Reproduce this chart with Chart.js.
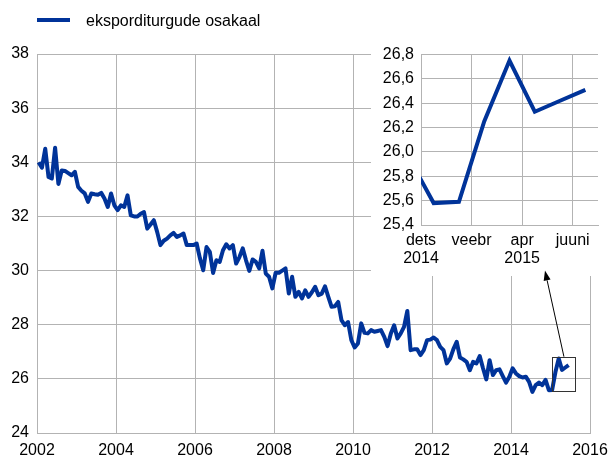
<!DOCTYPE html>
<html>
<head>
<meta charset="utf-8">
<script src="https://cdn.jsdelivr.net/npm/chart.js@4.4.1/dist/chart.umd.min.js"></script>
<style>
  body { margin: 0; background: #fff; }
  #wrap { position: relative; width: 608px; height: 459px; }
  #main { position: absolute; left: 0; top: 0; }
  #inset { position: absolute; left: 371px; top: 40px; }
</style>
</head>
<body>
<div id="wrap">
  <canvas id="main" width="608" height="459"></canvas>
  <canvas id="inset" width="237" height="236"></canvas>
</div>
<script>
const seriesName = "eksporditurgude osakaal";
const firstYear = 2002;

// monthly values, Jan 2002 .. Jun 2015 (one row per year)
const share = [
  34.0, 33.8, 34.5, 33.46, 33.4, 34.54, 33.2, 33.7, 33.68, 33.6, 33.52, 33.65,
  33.09, 32.95, 32.85, 32.54, 32.85, 32.82, 32.8, 32.87, 32.66, 32.35, 32.85, 32.41,
  32.23, 32.41, 32.35, 32.78, 32.04, 32.0, 32.0, 32.1, 32.16, 31.55, 31.7, 31.86,
  31.43, 30.94, 31.1, 31.18, 31.3, 31.39, 31.24, 31.3, 31.37, 30.94, 30.94, 30.94,
  31.0, 30.45, 30.01, 30.87, 30.69, 29.91, 30.38, 30.32, 30.75, 30.97, 30.82, 30.94,
  30.26, 30.5, 30.82, 30.38, 29.99, 30.41, 30.32, 30.08, 30.73, 29.89, 29.77, 29.34,
  29.92, 29.92, 30.0, 30.08, 29.15, 29.77, 29.03, 29.21, 28.97, 29.27, 29.03, 29.2,
  29.4, 29.09, 29.15, 29.42, 29.03, 28.66, 28.68, 28.84, 28.17, 27.98, 28.1, 27.43,
  27.16, 27.31, 28.05, 27.7, 27.68, 27.8, 27.74, 27.77, 27.8, 27.55, 27.21, 27.68,
  27.98, 27.49, 27.68, 27.92, 28.51, 27.06, 27.09, 27.09, 26.88, 27.06, 27.43, 27.45,
  27.53, 27.43, 27.18, 27.06, 26.57, 26.75, 27.1, 27.37, 26.79, 26.72, 26.63, 26.32,
  26.63, 26.57, 26.84, 26.39, 25.98, 26.69, 26.14, 26.32, 26.35, 26.1, 25.86, 26.08,
  26.39, 26.2, 26.1, 26.05, 26.08, 25.89, 25.52, 25.77, 25.86, 25.77, 25.96, 25.58,
  25.59, 26.25, 26.75, 26.33, 26.42, 26.51
];

// inset: from Nov 2014 (index 154), months counted from 1 Dec 2014
const insetFrom = 154;
const insetTickPos = [0, 2, 4, 6];
const insetTickText = [["dets", "2014"], "veebr", ["apr", "2015"], "juuni"];

// zoom box and arrow on the main chart, in data units
const zoomBox = { x0: 2015.04, x1: 2015.63, y0: 25.55, y1: 26.82 };
const arrowFrom = { x: 2015.34, y: 26.82 };
const arrowTo = { x: 2014.86, y: 30.0 };

const blue = "#003399";
const gridColor = "#b3b3b3";
const font = { family: "'Liberation Sans', Arial, sans-serif", size: 16 };

const mainPoints = share.map((v, i) => ({ x: firstYear + (i + 0.5) / 12, y: v }));
const insetPoints = share.slice(insetFrom).map((v, k) => ({ x: k - 0.5, y: v }));

const overlay = {
  id: "overlay",
  beforeDatasetsDraw(chart) {
    // white panel behind the inset
    const ctx = chart.ctx;
    ctx.save();
    ctx.fillStyle = "#fff";
    ctx.fillRect(371, 0, 237, 276);
    ctx.restore();
  },
  afterDraw(chart) {
    const ctx = chart.ctx;
    const x = chart.scales.x, y = chart.scales.y;
    ctx.save();

    // box
    ctx.strokeStyle = "#333";
    ctx.lineWidth = 1;
    const bx0 = Math.round(x.getPixelForValue(zoomBox.x0)) + 0.5;
    const bx1 = Math.round(x.getPixelForValue(zoomBox.x1)) + 0.5;
    const by0 = Math.round(y.getPixelForValue(zoomBox.y1)) + 0.5;
    const by1 = Math.round(y.getPixelForValue(zoomBox.y0)) + 0.5;
    ctx.strokeRect(bx0, by0, bx1 - bx0, by1 - by0);

    // arrow
    const ax = x.getPixelForValue(arrowFrom.x), ay = y.getPixelForValue(arrowFrom.y);
    const tx = x.getPixelForValue(arrowTo.x), ty = y.getPixelForValue(arrowTo.y);
    const ang = Math.atan2(ty - ay, tx - ax);
    const hl = 10, hw = 3.5;
    const baseX = tx - hl * Math.cos(ang), baseY = ty - hl * Math.sin(ang);
    ctx.strokeStyle = "#000";
    ctx.beginPath();
    ctx.moveTo(ax, ay);
    ctx.lineTo(baseX, baseY);
    ctx.stroke();
    ctx.fillStyle = "#000";
    ctx.beginPath();
    ctx.moveTo(tx, ty);
    ctx.lineTo(baseX + hw * Math.sin(ang), baseY - hw * Math.cos(ang));
    ctx.lineTo(baseX - hw * Math.sin(ang), baseY + hw * Math.cos(ang));
    ctx.closePath();
    ctx.fill();

    // legend
    ctx.strokeStyle = blue;
    ctx.lineWidth = 4;
    ctx.beginPath();
    ctx.moveTo(37, 20);
    ctx.lineTo(70, 20);
    ctx.stroke();
    ctx.fillStyle = "#000";
    ctx.font = "16px 'Liberation Sans', Arial, sans-serif";
    ctx.textBaseline = "alphabetic";
    ctx.fillText(seriesName, 86, 26);
    ctx.restore();
  }
};

new Chart(document.getElementById("main"), {
  type: "line",
  data: {
    datasets: [{
      label: seriesName,
      data: mainPoints,
      borderColor: blue,
      borderWidth: 4,
      pointRadius: 0,
      tension: 0,
      borderJoinStyle: "round"
    }]
  },
  options: {
    responsive: false,
    animation: false,
    layout: { padding: { top: 54, right: 18, left: 0, bottom: 0 } },
    plugins: { legend: { display: false }, tooltip: { enabled: false } },
    scales: {
      x: {
        type: "linear",
        min: 2002,
        max: 2016,
        ticks: { stepSize: 2, font: font, color: "#000", padding: 8, maxRotation: 0, callback: v => String(v) },
        grid: { color: gridColor, drawTicks: false },
        border: { color: gridColor },
        afterFit: s => { s.height = 26; s.paddingLeft = 0; s.paddingRight = 0; }
      },
      y: {
        min: 24,
        max: 38,
        ticks: { stepSize: 2, font: font, color: "#000", padding: 8 },
        grid: { color: gridColor, drawTicks: false },
        border: { color: gridColor },
        afterFit: s => { s.width = 37; s.paddingTop = 0; s.paddingBottom = 0; }
      }
    }
  },
  plugins: [overlay]
});

new Chart(document.getElementById("inset"), {
  type: "line",
  data: {
    datasets: [{
      data: insetPoints,
      borderColor: blue,
      borderWidth: 4,
      pointRadius: 0,
      tension: 0,
      clip: 0
    }]
  },
  options: {
    responsive: false,
    animation: false,
    layout: { padding: { top: 14.5, right: 10, left: 0, bottom: 0 } },
    plugins: { legend: { display: false }, tooltip: { enabled: false } },
    scales: {
      x: {
        type: "linear",
        min: 0,
        max: 7,
        afterBuildTicks: s => { s.ticks = insetTickPos.map(v => ({ value: v })); },
        ticks: {
          font: { family: font.family, size: 16, lineHeight: 1.15 },
          color: "#000",
          padding: 6,
          maxRotation: 0,
          autoSkip: false,
          callback: v => insetTickText[insetTickPos.indexOf(v)]
        },
        grid: { color: gridColor, drawTicks: false },
        border: { color: gridColor },
        afterFit: s => { s.height = 51; s.paddingLeft = 0; s.paddingRight = 0; }
      },
      y: {
        min: 25.4,
        max: 26.8,
        ticks: {
          stepSize: 0.2,
          font: font,
          color: "#000",
          padding: 7,
          callback: v => v.toFixed(1).replace(".", ",")
        },
        grid: { color: gridColor, drawTicks: false },
        border: { color: gridColor },
        afterFit: s => { s.width = 50; s.paddingTop = 0; s.paddingBottom = 0; }
      }
    }
  }
});
</script>
</body>
</html>
